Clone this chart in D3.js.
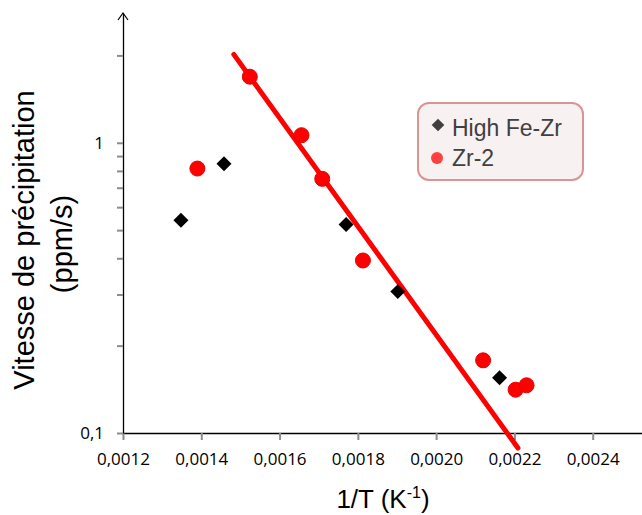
<!DOCTYPE html>
<html>
<head>
<meta charset="utf-8">
<script src="https://cdn.jsdelivr.net/npm/d3@7"></script>
<style>
  body { margin: 0; background: #fff; }
  svg { display: block; }
</style>
</head>
<body>
<svg id="chart" width="642" height="515"></svg>
<script>
// data
const FEZR_X = [0.001348, 0.001458, 0.001770, 0.001902, 0.002162];
const FEZR_Y = [0.541, 0.846, 0.523, 0.307, 0.155];
const ZR2_X = [0.001390, 0.001524, 0.001656, 0.001709, 0.001813, 0.002120, 0.002203, 0.002231];
const ZR2_Y = [0.815, 1.689, 1.062, 0.751, 0.393, 0.178, 0.141, 0.146];
const TREND_X = [0.001483, 0.002209];
const TREND_Y = [2.016, 0.0888];
const X_TICKS = [0.0012, 0.0014, 0.0016, 0.0018, 0.0020, 0.0022, 0.0024];
const Y_TICKS = [0.1, 0.2, 0.3, 0.4, 0.5, 0.6, 0.7, 0.8, 0.9, 1, 2];
const Y_LABELS = {0.1: "0,1", 1: "1"};
const LEGEND = ["High Fe-Zr", "Zr-2"];

const svg = d3.select("#chart");

const x = d3.scaleLinear().domain([0.0012, 0.0026]).range([123, 671]);
const y = d3.scaleLog().domain([0.1, 2.8]).range([433, 13]);

const TICK_COL = "#8c8c8c";

// x axis
const xAxis = svg.append("g")
    .attr("transform", "translate(0,433)")
    .call(d3.axisBottom(x).tickValues(X_TICKS).tickSize(7).tickSizeOuter(0).tickPadding(13)
      .tickFormat(d => d.toFixed(4).replace(".", ",")));
xAxis.select(".domain").attr("stroke", "#000").attr("stroke-width", 1.3);
xAxis.selectAll(".tick line").attr("stroke", TICK_COL).attr("stroke-width", 2);
xAxis.selectAll(".tick text")
    .attr("font-family", "Open Sans").attr("font-size", 17).attr("fill", "#000");

// y axis
const yAxis = svg.append("g")
    .attr("transform", "translate(123,0)")
    .call(d3.axisLeft(y).tickValues(Y_TICKS).tickSize(6).tickSizeOuter(0).tickPadding(13)
      .tickFormat(d => Y_LABELS[d] || ""));
yAxis.select(".domain").attr("stroke", "#000").attr("stroke-width", 1.3);
yAxis.selectAll(".tick line").attr("stroke", TICK_COL).attr("stroke-width", 2);
yAxis.selectAll(".tick text")
    .attr("font-family", "Open Sans").attr("font-size", 17).attr("fill", "#000");

// arrow head on y axis
svg.append("path")
    .attr("d", "M 118 20 L 123 13 L 128 20")
    .attr("fill", "none").attr("stroke", "#000").attr("stroke-width", 1.2);

// axis titles
svg.append("text")
    .attr("transform", "translate(34,240) rotate(-90)")
    .attr("text-anchor", "middle")
    .attr("font-family", "Liberation Sans").attr("font-size", 29)
    .text("Vitesse de précipitation");
svg.append("text")
    .attr("transform", "translate(72,244) rotate(-90)")
    .attr("text-anchor", "middle")
    .attr("font-family", "Liberation Sans").attr("font-size", 29)
    .text("(ppm/s)");

const xt = svg.append("text")
    .attr("x", 383).attr("y", 508)
    .attr("text-anchor", "middle")
    .attr("font-family", "Liberation Sans").attr("font-size", 26);
xt.append("tspan").text("1/T (K");
xt.append("tspan").attr("font-size", 16).attr("dy", -10).text("-1");
xt.append("tspan").attr("dy", 10).text(")");

// trend line
const trend = TREND_X.map((v, i) => [v, TREND_Y[i]]);
svg.append("path")
    .datum(trend)
    .attr("d", d3.line().x(d => x(d[0])).y(d => y(d[1])))
    .attr("stroke", "#ff0000").attr("stroke-width", 5)
    .attr("stroke-linecap", "round").attr("fill", "none");

// markers
const diamond = d3.symbol().type(d3.symbolSquare).size(112);
const fezr = FEZR_X.map((v, i) => [v, FEZR_Y[i]]);
svg.append("g").selectAll("path")
  .data(fezr)
  .join("path")
    .attr("d", diamond)
    .attr("transform", d => "translate(" + [x(d[0]), y(d[1])] + ") rotate(45)")
    .attr("fill", "#000");

const zr2 = ZR2_X.map((v, i) => [v, ZR2_Y[i]]);
svg.append("g").selectAll("circle")
  .data(zr2)
  .join("circle")
    .attr("cx", d => x(d[0])).attr("cy", d => y(d[1]))
    .attr("r", 7.5)
    .attr("fill", "#ff0000").attr("stroke", "#e60000").attr("stroke-width", 1);

// legend
const leg = svg.append("g").attr("transform", "translate(418,103)");
leg.append("rect")
    .attr("width", 165).attr("height", 77).attr("rx", 11)
    .attr("fill", "#f8f1f1").attr("stroke", "#d99594").attr("stroke-width", 2);
leg.append("path")
    .attr("d", d3.symbol().type(d3.symbolSquare).size(80))
    .attr("transform", "translate(20,22) rotate(45)")
    .attr("fill", "#404040");
leg.append("circle")
    .attr("cx", 19).attr("cy", 55).attr("r", 6)
    .attr("fill", "#ff4040");
leg.selectAll("text.lbl")
  .data(LEGEND)
  .join("text")
    .attr("class", "lbl")
    .attr("x", 34).attr("y", (d, i) => 33 + i * 30)
    .attr("font-family", "Liberation Sans").attr("font-size", 23)
    .attr("fill", "#404040")
    .text(d => d);
</script>
</body>
</html>
